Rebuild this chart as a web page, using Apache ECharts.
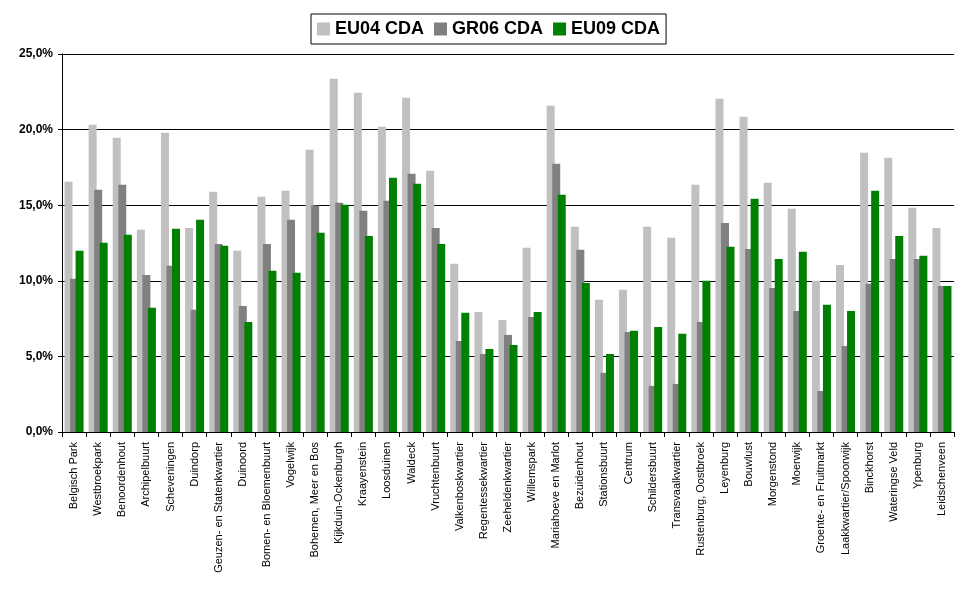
<!DOCTYPE html>
<html>
<head>
<meta charset="utf-8">
<script src="https://cdn.jsdelivr.net/npm/echarts@6/dist/echarts.min.js"></script>
<style>html,body{margin:0;padding:0;background:#fff;}#c{width:970px;height:604px;}</style>
</head>
<body>
<div id="c"></div>
<script>
const categories = ["Belgisch Park","Westbroekpark","Benoordenhout","Archipelbuurt","Scheveningen","Duindorp","Geuzen- en Statenkwartier","Duinoord","Bomen- en Bloemenbuurt","Vogelwijk","Bohemen, Meer en Bos","Kijkduin-Ockenburgh","Kraayenstein","Loosduinen","Waldeck","Vruchtenbuurt","Valkenboskwartier","Regentessekwartier","Zeeheldenkwartier","Willemspark","Mariahoeve en Marlot","Bezuidenhout","Stationsbuurt","Centrum","Schildersbuurt","Transvaalkwartier","Rustenburg, Oostbroek","Leyenburg","Bouwlust","Morgenstond","Moerwijk","Groente- en Fruitmarkt","Laakkwartier/Spoorwijk","Binckhorst","Wateringse Veld","Ypenburg","Leidschenveen"];
const eu04 = [16.55,20.32,19.46,13.37,19.79,13.50,15.89,11.98,15.56,15.95,18.67,23.37,22.44,20.19,22.11,17.28,11.12,7.94,7.41,12.18,21.58,13.57,8.74,9.40,13.57,12.84,16.35,22.04,20.85,16.48,14.76,10.00,11.05,18.47,18.14,14.83,13.50];
const gr06 = [10.13,16.02,16.35,10.39,10.99,8.08,12.44,8.34,12.44,14.03,14.98,15.16,14.63,15.29,17.08,13.50,6.02,5.16,6.42,7.61,17.74,12.05,3.91,6.62,3.05,3.18,7.28,13.83,12.11,9.53,8.01,2.71,5.69,9.80,11.45,11.45,9.66];
const eu09 = [11.98,12.51,13.04,8.21,13.44,14.03,12.31,7.28,10.66,10.53,13.17,15.03,12.97,16.81,16.42,12.44,7.88,5.49,5.76,7.94,15.69,9.86,5.16,6.69,6.95,6.49,10.00,12.25,15.42,11.45,11.92,8.41,8.01,15.95,12.97,11.65,9.66];
const seriesNames = ["EU04 CDA","GR06 CDA","EU09 CDA"];
const yTicks = {min:0, max:25, interval:5};

const chart = echarts.init(document.getElementById('c'));
const colors = ['#C0C0C0','#808080','#008000'];
const datas = [eu04, gr06, eu09];
chart.setOption({
  animation:false,
  backgroundColor:'#fff',
  legend:{
    top:14, left:311,
    data:seriesNames,
    itemWidth:13, itemHeight:13, itemGap:10,
    icon:'rect',
    padding:[6,6,6,6],
    borderColor:'#000', borderWidth:1,
    textStyle:{fontFamily:'Liberation Sans, Arial', fontSize:18, fontWeight:'bold', color:'#000'}
  },
  grid:{left:62, right:16, top:54, bottom:172, containLabel:false},
  xAxis:{
    type:'category', data:categories,
    boundaryGap:true,
    axisLine:{lineStyle:{color:'#000', width:1}},
    axisTick:{show:true, alignWithLabel:false, length:5, lineStyle:{color:'#000'}},
    axisLabel:{rotate:90, interval:0, fontFamily:'Liberation Sans, Arial', fontSize:11, color:'#000', margin:10}
  },
  yAxis:{
    type:'value', min:yTicks.min, max:yTicks.max, interval:yTicks.interval,
    axisLine:{show:true, lineStyle:{color:'#000'}},
    axisTick:{show:true, length:4, lineStyle:{color:'#000'}},
    splitLine:{show:true, lineStyle:{color:'#000', width:1}},
    axisLabel:{fontFamily:'Liberation Sans, Arial', fontSize:12, fontWeight:'bold', color:'#000', margin:9,
      formatter:v=>v.toFixed(1).replace('.',',')+'%'}
  },
  series: seriesNames.map((n,i)=>({
    name:n, type:'bar', data:datas[i], barWidth:8, barGap:'-31%',
    itemStyle:{color:colors[i]}
  }))
});
</script>
</body>
</html>
